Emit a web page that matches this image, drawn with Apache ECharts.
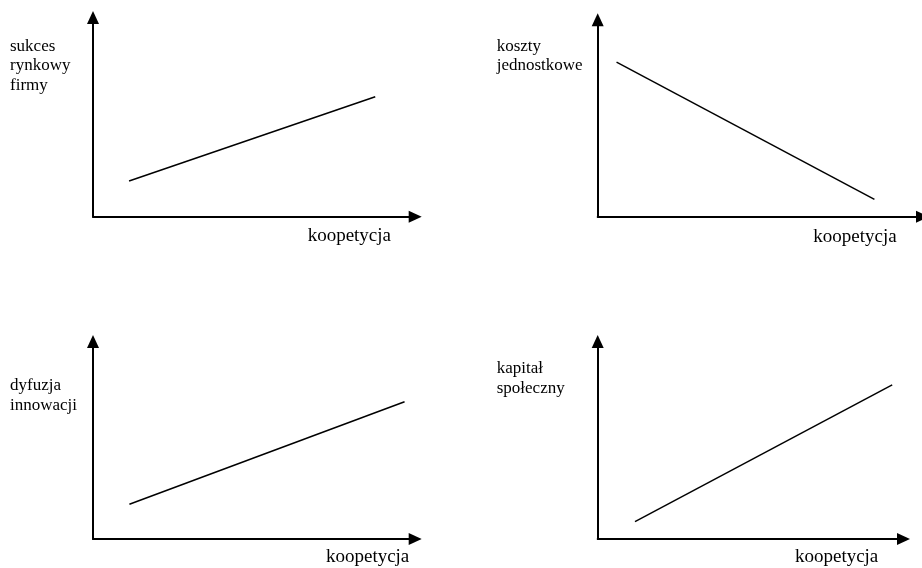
<!DOCTYPE html>
<html>
<head>
<meta charset="utf-8">
<script src="https://cdn.jsdelivr.net/npm/echarts@6/dist/echarts.min.js"></script>
<style>
  html, body { margin: 0; padding: 0; background: #fff; }
  #chart { width: 922px; height: 568px; }
</style>
</head>
<body>
<div id="chart"></div>
<script>
// nazwy osi
const xName = "koopetycja";
const yNames = ["sukces\nrynkowy\nfirmy", "koszty\njednostkowe", "dyfuzja\ninnowacji", "kapitał\nspołeczny"];

// odcinki (skala 0-10 na obu osiach)
const sukcesX = [1.12, 8.76];
const sukcesY = [1.79, 6.02];
const kosztyX = [0.58, 8.52];
const kosztyY = [7.85, 0.88];
const dyfuzjaX = [1.13, 9.67];
const dyfuzjaY = [1.76, 6.95];
const kapitalX = [1.22, 9.63];
const kapitalY = [0.88, 7.8];

const seriesX = [sukcesX, kosztyX, dyfuzjaX, kapitalX];
const seriesY = [sukcesY, kosztyY, dyfuzjaY, kapitalY];

const font = "'Liberation Serif', 'Times New Roman', serif";

// położenie paneli (krawędzie = środki grotów)
const grids = [
  { left: 93, top: 17.5, right: 506.8, bottom: 351.3 },
  { left: 597.7, top: 19.8, right: -0.5, bottom: 351.3 },
  { left: 93, top: 341.5, right: 506.8, bottom: 29 },
  { left: 597.7, top: 341.5, right: 18.5, bottom: 29 },
];
const nameGaps = [-24.2, -25.8, -5.9, -25.2];
const nameOffsets = [19, 20, 18.5, 18.5];
const titlePos = [
  { left: 10, top: 36.5 },
  { left: 496.7, top: 36.5 },
  { left: 10, top: 376 },
  { left: 496.7, top: 359 },
];

const axisLine = {
  show: true,
  symbol: ["none", "triangle"],
  symbolSize: [12, 13],
  lineStyle: { color: "#000", width: 2 },
};

const chart = echarts.init(document.getElementById("chart"));

const option = {
  backgroundColor: "#fff",
  animation: false,
  title: yNames.map((t, i) => ({
    text: t,
    left: titlePos[i].left,
    top: titlePos[i].top,
    padding: 0,
    textStyle: {
      fontFamily: font,
      fontSize: 17,
      fontWeight: "normal",
      color: "#000",
      lineHeight: 19.5,
    },
  })),
  grid: grids.map((g) => ({ ...g, outerBoundsMode: "none", containLabel: false })),
  xAxis: grids.map((g, i) => ({
    type: "value",
    gridIndex: i,
    min: 0,
    max: 10,
    name: xName,
    nameLocation: "end",
    nameGap: nameGaps[i],
    nameTextStyle: {
      fontFamily: font,
      fontSize: 19,
      color: "#000",
      align: "right",
      verticalAlign: "top",
      lineHeight: nameOffsets[i] * 2,
    },
    axisLine: axisLine,
    axisTick: { show: false },
    axisLabel: { show: false },
    splitLine: { show: false },
  })),
  yAxis: grids.map((g, i) => ({
    type: "value",
    gridIndex: i,
    min: 0,
    max: 10,
    axisLine: axisLine,
    axisTick: { show: false },
    axisLabel: { show: false },
    splitLine: { show: false },
  })),
  series: seriesX.map((xs, i) => ({
    type: "line",
    xAxisIndex: i,
    yAxisIndex: i,
    showSymbol: false,
    silent: true,
    lineStyle: { color: "#000", width: 1.5 },
    data: xs.map((x, j) => [x, seriesY[i][j]]),
  })),
};

chart.setOption(option);
</script>
</body>
</html>
